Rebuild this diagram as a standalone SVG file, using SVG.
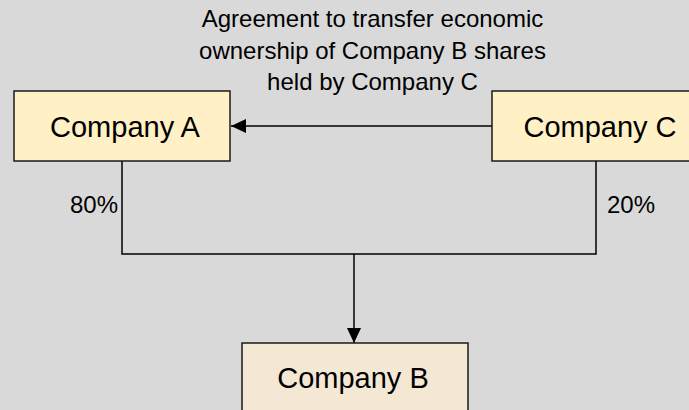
<svg xmlns="http://www.w3.org/2000/svg" width="689" height="410" viewBox="0 0 689 410">
<style>
.box{stroke:#1a1a1a;stroke-width:1.5}
.ac{fill:#fff0c6}
.b{fill:#f4e8d4}
.t{font-family:"Liberation Sans",Arial,sans-serif;fill:#000}
.big{font-size:29px}
.sm{font-size:24px}
.ln{stroke:#000;stroke-width:1.5;fill:none}
</style>
<defs>
<marker id="ah" markerWidth="16" markerHeight="14" refX="15" refY="7" orient="auto" markerUnits="userSpaceOnUse">
<path d="M0,0 L15,7 L0,14 Z" fill="#000"/>
</marker>
</defs>
<rect width="689" height="410" fill="#d9d9d9"/>
<g id="connectors">
<line class="ln" x1="492" y1="126" x2="231" y2="126" marker-end="url(#ah)"/>
<polyline class="ln" points="122,161 122,254 596,254 596,161"/>
<line class="ln" x1="354" y1="254" x2="354" y2="343" marker-end="url(#ah)"/>
</g>
<g id="label">
<text class="t sm" text-anchor="middle" x="372.5" y="27">Agreement to transfer economic</text>
<text class="t sm" text-anchor="middle" x="372.5" y="58.5">ownership of Company B shares</text>
<text class="t sm" text-anchor="middle" x="372.5" y="90">held by Company C</text>
</g>
<g id="pct80"><text class="t sm" text-anchor="end" x="118" y="213">80%</text></g>
<g id="pct20"><text class="t sm" x="607" y="213">20%</text></g>
<g id="companyA">
<rect class="box ac" x="14" y="91" width="216" height="70"/>
<text class="t big" text-anchor="middle" x="125" y="136.5">Company A</text>
</g>
<g id="companyC">
<rect class="box ac" x="492" y="91" width="216" height="70"/>
<text class="t big" text-anchor="middle" x="600" y="136.5">Company C</text>
</g>
<g id="companyB">
<rect class="box b" x="242" y="343" width="226" height="70"/>
<text class="t big" text-anchor="middle" x="353" y="388">Company B</text>
</g>
</svg>
